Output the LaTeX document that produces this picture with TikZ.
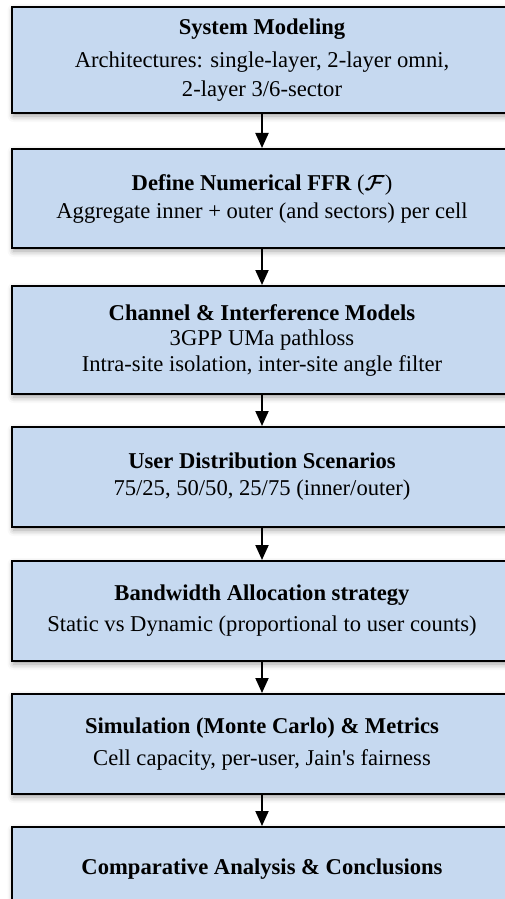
\documentclass[tikz,border=0pt]{standalone}
\usepackage{amsmath}
\usepackage{fontspec}
\setmainfont{Liberation Serif}
\usepackage{tikz}
\usetikzlibrary{arrows.meta, shadows.blur}
\definecolor{stagefill}{HTML}{C6D9F0}

\begin{document}
\begin{tikzpicture}[x=0.5pt, y=-0.5pt,
    stage/.style={draw=black, line width=1pt, fill=stagefill, minimum width=250pt,
      align=center, inner sep=0pt, font=\fontsize{11.3pt}{12.75pt}\selectfont,
      blur shadow={shadow xshift=0.8pt, shadow yshift=-1.5pt, shadow blur radius=3pt, shadow opacity=40}},
    flow/.style={line width=1pt, -{Triangle[width=6.5pt, length=7.5pt]}}]
  \useasboundingbox (0,0) rectangle (504,899);

  \node[stage, minimum height=53pt] (model) at (262,60)
    {\textbf{System Modeling}\\[3.75pt] Architectures: single-layer, 2-layer omni,\\[1.75pt] 2-layer 3/6-sector};
  \node[stage, minimum height=49.5pt] (ffr) at (262,198.5)
    {\textbf{Define Numerical FFR} ($\boldsymbol{\mathcal{F}}$)\\[1.25pt] Aggregate inner + outer (and sectors) per cell};
  \node[stage, minimum height=54pt] (chan) at (262,340)
    {\textbf{Channel \& Interference Models}\\ 3GPP UMa pathloss\\ Intra-site isolation, inter-site angle filter};
  \node[stage, minimum height=50pt] (users) at (262,477)
    {\textbf{User Distribution Scenarios}\\[0.75pt] 75/25, 50/50, 25/75 (inner/outer)};
  \node[stage, minimum height=50pt] (bw) at (262,611)
    {\textbf{Bandwidth Allocation strategy}\\[2.75pt] Static vs Dynamic (proportional to user counts)};
  \node[stage, minimum height=50pt] (sim) at (262,744)
    {\textbf{Simulation (Monte Carlo) \& Metrics}\\[3pt] Cell capacity, per-user, Jain\textquotesingle s fairness};
  \node[stage, minimum height=42pt] (concl) at (262,869)
    {\textbf{Comparative Analysis \& Conclusions}};

  \draw[flow] (model.south) -- (ffr.north);
  \draw[flow] (ffr.south) -- (chan.north);
  \draw[flow] (chan.south) -- (users.north);
  \draw[flow] (users.south) -- (bw.north);
  \draw[flow] (bw.south) -- (sim.north);
  \draw[flow] (sim.south) -- (concl.north);
\end{tikzpicture}
\end{document}
